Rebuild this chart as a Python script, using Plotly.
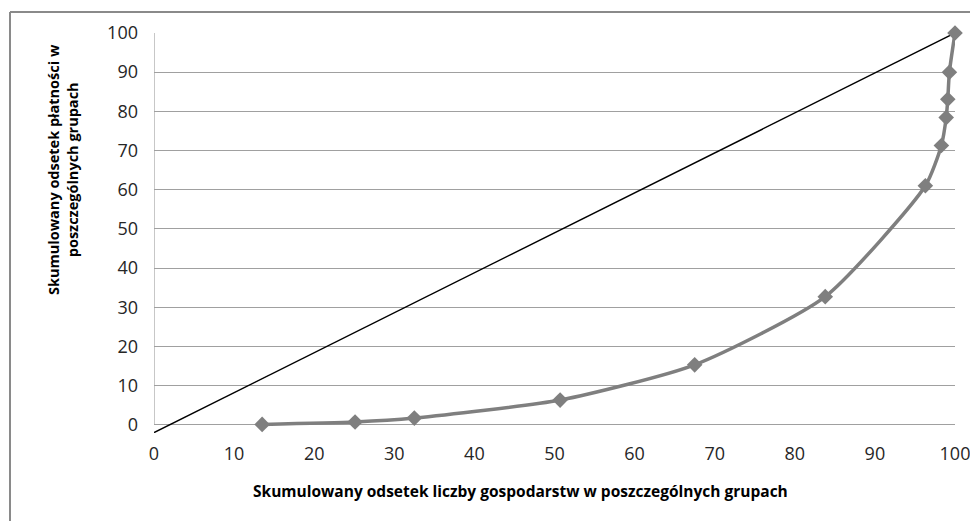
import plotly.graph_objects as go

# Lorenz curve points (cumulative % of farms, cumulative % of payments)
curve_x = [13.5, 25.1, 32.5, 50.7, 67.5, 83.8, 96.3, 98.3, 98.9, 99.1, 99.3, 100.0]
curve_y = [0.1, 0.7, 1.7, 6.3, 15.3, 32.7, 61.0, 71.3, 78.4, 83.1, 90.0, 100.0]

# Equality line
diag_x = [0, 100]
diag_y = [-2, 100]

tick_vals = [0, 10, 20, 30, 40, 50, 60, 70, 80, 90, 100]

y_title = "Skumulowany odsetek płatności w<br>poszczególnych grupach"
x_title = "Skumulowany odsetek liczby gospodarstw w poszczególnych grupach"

FONT = "Open Sans, Noto Sans, sans-serif"
TICK_COLOR = "#262626"

# figure geometry (page has an 8px body margin)
W, H = 970, 513
L, R, T, B = 146, 23, 25, 88
PW = W - L - R
PH = H - T - B


def px_x(x):
    return (x - 8 - L) / PW


def px_y(y):
    return 1 - (y - 8 - T) / PH


fig = go.Figure()
fig.add_trace(go.Scatter(
    x=diag_x, y=diag_y, mode="lines",
    line=dict(color="black", width=1.5), hoverinfo="skip", showlegend=False,
))
fig.add_trace(go.Scatter(
    x=curve_x, y=curve_y, mode="lines+markers",
    line=dict(color="#7f7f7f", width=3.5, shape="spline", smoothing=0.6),
    marker=dict(symbol="diamond", size=12, color="#7f7f7f"),
    cliponaxis=False, showlegend=False,
))

fig.update_layout(
    template="none",
    width=W, height=H,
    paper_bgcolor="white", plot_bgcolor="white",
    margin=dict(l=L, r=R, t=T, b=B),
    font=dict(family=FONT, size=18, color=TICK_COLOR),
    xaxis=dict(
        range=[0, 100], tickvals=tick_vals, showgrid=False, zeroline=False,
        showline=False, ticks="", tickfont=dict(size=18, color=TICK_COLOR),
        ticklabelstandoff=8,
    ),
    yaxis=dict(
        range=[-2.1, 100], tickvals=tick_vals, showgrid=True,
        gridcolor="#a0a0a0", gridwidth=1, zeroline=False, showline=False,
        ticks="", tickfont=dict(size=18, color=TICK_COLOR), ticklabelstandoff=15,
    ),
    shapes=[
        # y-axis line
        dict(type="line", xref="x", yref="y", x0=0, x1=0, y0=0, y1=100,
             line=dict(color="#909090", width=1), layer="below"),
        # outer chart frame: top and left edges
        dict(type="line", xref="paper", yref="paper",
             x0=px_x(10), x1=px_x(1000), y0=px_y(12), y1=px_y(12),
             line=dict(color="#8a8a8a", width=2)),
        dict(type="line", xref="paper", yref="paper",
             x0=px_x(10), x1=px_x(10), y0=px_y(12), y1=px_y(540),
             line=dict(color="#8a8a8a", width=2)),
    ],
    annotations=[
        dict(text="<b>" + y_title + "</b>", xref="paper", yref="paper",
             x=px_x(63), y=px_y(170), xanchor="center", yanchor="middle",
             textangle=-90, showarrow=False,
             font=dict(size=14.5, color="black"), align="center"),
        dict(text="<b>" + x_title + "</b>", xref="paper", yref="paper",
             x=px_x(520), y=px_y(491), xanchor="center", yanchor="middle",
             showarrow=False, font=dict(size=15.5, color="black")),
    ],
)

fig.write_html("out.html")
